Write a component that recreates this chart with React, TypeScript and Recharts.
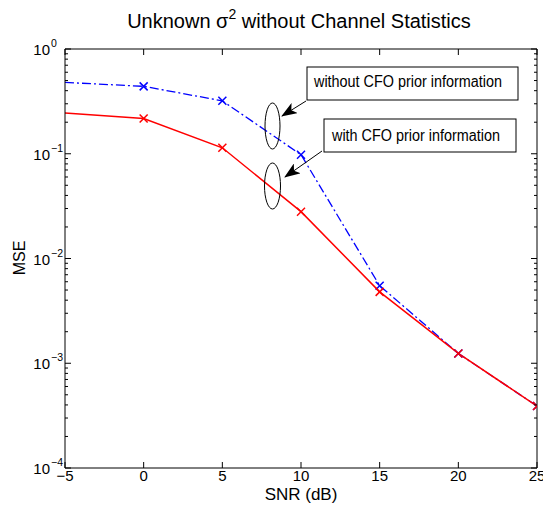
import React from "react";
import { LineChart, Line, XAxis, YAxis } from "recharts";

const snr = [-5, 0, 5, 10, 15, 20, 25];
const mseWithout = [0.48, 0.44, 0.32, 0.098, 0.0055, 0.00124, 0.00039];
const mseWith = [0.245, 0.217, 0.114, 0.028, 0.0048, 0.00124, 0.00039];
const xTicks = [-5, 0, 5, 10, 15, 20, 25];
const yMajor = [1e-4, 1e-3, 1e-2, 1e-1, 1];

const W = 543;
const H = 512;
const PL = 65;
const PR = 537;
const PT = 49;
const PB = 468;
const FONT = "'Liberation Sans', Arial, Helvetica, sans-serif";

// major + minor (2..9) ticks for the log axis
const yTicks: number[] = [];
yMajor.forEach((d, i) => {
    yTicks.push(d);
    if (i < yMajor.length - 1) {
        for (let k = 2; k <= 9; k++) yTicks.push(+(k * d).toPrecision(3));
    }
});

const data = snr.map((s, i) => ({ snr: s, without: mseWithout[i], with: mseWith[i] }));

function YTick(props: any) {
    const { y, payload } = props;
    const v = payload.value as number;
    const e = Math.log10(v);
    const major = Math.abs(e - Math.round(e)) < 1e-6;
    const len = major ? 6 : 3;
    const exp = Math.round(e);
    return (
        <g>
            <line x1={PL} x2={PL + len} y1={y} y2={y} stroke="#000" strokeWidth={1} />
            <line x1={PR - len} x2={PR} y1={y} y2={y} stroke="#000" strokeWidth={1} />
            {major && (
                <text x={PL - 15} y={y + 6} textAnchor="end" fontSize={15} fill="#000" fontFamily={FONT}>
                    10
                </text>
            )}
            {major && (
                <text x={PL - 14} y={y - 2} textAnchor="start" fontSize={10.5} fill="#000" fontFamily={FONT}>
                    {exp < 0 ? "\u2212" + Math.abs(exp) : String(exp)}
                </text>
            )}
        </g>
    );
}

function XTick(props: any) {
    const { x, payload } = props;
    const v = payload.value as number;
    return (
        <g>
            <line x1={x} x2={x} y1={PB} y2={PB - 6} stroke="#000" strokeWidth={1} />
            <line x1={x} x2={x} y1={PT} y2={PT + 6} stroke="#000" strokeWidth={1} />
            <text x={x} y={PB + 13} textAnchor="middle" fontSize={15} fill="#000" fontFamily={FONT}>
                {v < 0 ? "\u2212" + Math.abs(v) : String(v)}
            </text>
        </g>
    );
}

function makeCross(color: string) {
    return function Cross(props: any) {
        const { cx, cy, payload } = props;
        if (payload.snr === -5 || cx == null || cy == null) return <g key={`n${props.index}`} />;
        const r = 4;
        return (
            <g key={`c${props.index}`}>
                <line x1={cx - r} y1={cy - r} x2={cx + r} y2={cy + r} stroke={color} strokeWidth={1.5} />
                <line x1={cx - r} y1={cy + r} x2={cx + r} y2={cy - r} stroke={color} strokeWidth={1.5} />
            </g>
        );
    };
}

const BlueCross = makeCross("#0000ff");
const RedCross = makeCross("#ff0000");

export default function App() {
    return (
        <div style={{ position: "absolute", left: 0, top: 0, width: W, height: H, background: "#fff" }}>
            <LineChart width={W} height={H} data={data} margin={{ top: 39, right: 0, bottom: 0, left: 5 }}>
                <XAxis
                    xAxisId="b"
                    dataKey="snr"
                    type="number"
                    domain={[-5, 25]}
                    ticks={xTicks}
                    interval={0}
                    height={44}
                    allowDataOverflow
                    axisLine={{ stroke: "#000" }}
                    tickLine={false}
                    tick={<XTick />}
                />
                <XAxis
                    xAxisId="t"
                    orientation="top"
                    dataKey="snr"
                    type="number"
                    domain={[-5, 25]}
                    height={10}
                    allowDataOverflow
                    axisLine={{ stroke: "#000" }}
                    tickLine={false}
                    tick={false}
                />
                <YAxis
                    yAxisId="l"
                    type="number"
                    scale="log"
                    domain={[1e-4, 1]}
                    ticks={yTicks}
                    interval={0}
                    width={60}
                    allowDataOverflow
                    axisLine={{ stroke: "#000" }}
                    tickLine={false}
                    tick={<YTick />}
                />
                <YAxis
                    yAxisId="r"
                    orientation="right"
                    type="number"
                    scale="log"
                    domain={[1e-4, 1]}
                    width={6}
                    allowDataOverflow
                    axisLine={{ stroke: "#000" }}
                    tickLine={false}
                    tick={false}
                />
                <Line
                    xAxisId="b"
                    yAxisId="l"
                    type="linear"
                    dataKey="without"
                    stroke="#0000ff"
                    strokeWidth={1.3}
                    strokeDasharray="9 3 2 3"
                    dot={BlueCross}
                    activeDot={false}
                    isAnimationActive={false}
                />
                <Line
                    xAxisId="b"
                    yAxisId="l"
                    type="linear"
                    dataKey="with"
                    stroke="#ff0000"
                    strokeWidth={1.5}
                    dot={RedCross}
                    activeDot={false}
                    isAnimationActive={false}
                />
            </LineChart>
            <svg width={W} height={H} style={{ position: "absolute", left: 0, top: 0, pointerEvents: "none" }}>
                <defs>
                    <marker id="ah" viewBox="0 0 16 12" refX="15" refY="6" markerWidth="16" markerHeight="12" markerUnits="userSpaceOnUse" orient="auto">
                        <path d="M0,0 L16,6 L0,12 L4,6 Z" fill="#000" />
                    </marker>
                </defs>
                <text x={299} y={28} textAnchor="middle" fontSize={20} fill="#000" fontFamily={FONT}>
                    Unknown σ<tspan dy={-9} fontSize={14}>2</tspan><tspan dy={9}> without Channel Statistics</tspan>
                </text>
                <text x={301} y={500} textAnchor="middle" fontSize={17} fill="#000" fontFamily={FONT}>
                    SNR (dB)
                </text>
                <text x={25} y={258} textAnchor="middle" fontSize={16} fill="#000" fontFamily={FONT} transform="rotate(-90 25 258)">
                    MSE
                </text>
                <ellipse cx={272.5} cy={126} rx={7.5} ry={23} fill="none" stroke="#000" strokeWidth={1} />
                <ellipse cx={272.5} cy={186} rx={8} ry={23} fill="none" stroke="#000" strokeWidth={1} />
                <rect x={307} y={67} width={211} height={33} fill="#fff" stroke="#000" strokeWidth={1} />
                <text x={314} y={87} fontSize={16} fill="#000" fontFamily={FONT} textLength={188} lengthAdjust="spacingAndGlyphs">
                    without CFO prior information
                </text>
                <rect x={324} y={119} width={192} height={33} fill="#fff" stroke="#000" strokeWidth={1} />
                <text x={332} y={141} fontSize={16} fill="#000" fontFamily={FONT} textLength={168} lengthAdjust="spacingAndGlyphs">
                    with CFO prior information
                </text>
                <line x1={306} y1={101} x2={282} y2={116} stroke="#000" strokeWidth={1} markerEnd="url(#ah)" />
                <line x1={322} y1={151} x2={285} y2={177} stroke="#000" strokeWidth={1} markerEnd="url(#ah)" />
            </svg>
        </div>
    );
}
